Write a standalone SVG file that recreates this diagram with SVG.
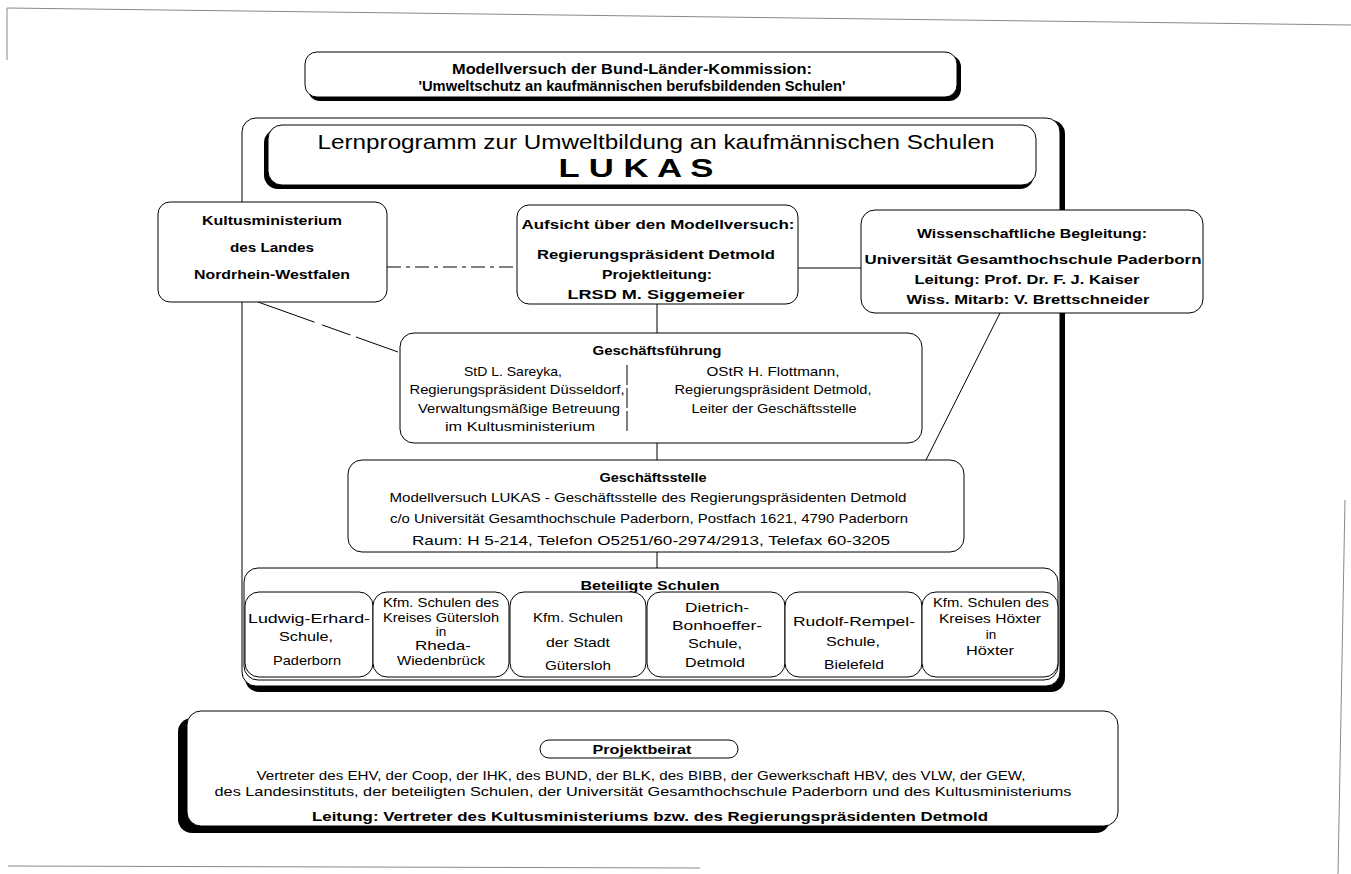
<svg xmlns="http://www.w3.org/2000/svg" width="1351" height="874" viewBox="0 0 1351 874">
<style>
text{font-family:"Liberation Sans",Arial,sans-serif;fill:#000;text-anchor:middle}
.b{font-weight:bold}
.s{font-size:13.5px}
.box{fill:#fff;stroke:#000;stroke-width:1}
.sh{fill:#000}
.ln{stroke:#000;stroke-width:1;fill:none}
.pg{stroke:#888;stroke-width:1;fill:none}
</style>
<rect width="1351" height="874" fill="#fff"/>
<g id="page">
<path class="pg" d="M7 8 L1351 25"/>
<path class="pg" d="M7 8 L7 60"/>
<path class="pg" d="M1345 500 L1338 874"/>
<path class="pg" d="M8 866 L700 868"/>
</g>
<g id="title-box">
<rect class="sh" x="308" y="55" width="653" height="46" rx="12"/>
<rect class="box" x="305" y="52" width="652" height="45" rx="12" stroke-width="1.5"/>
<text class="b" x="632" y="74" font-size="14" textLength="360" lengthAdjust="spacingAndGlyphs">Modellversuch der Bund-Länder-Kommission:</text>
<text class="b" x="632" y="91" font-size="14" textLength="427" lengthAdjust="spacingAndGlyphs">'Umweltschutz an kaufmännischen berufsbildenden Schulen'</text>
</g>
<g id="main-frame">
<rect class="sh" x="245" y="120" width="820" height="572" rx="14"/>
<rect class="box" x="242" y="118" width="818" height="568" rx="14" stroke-width="3"/>
</g>
<g id="lukas">
<rect class="sh" x="264" y="129" width="770" height="60" rx="14"/>
<rect class="box" x="268" y="125" width="768" height="60" rx="14"/>
<text x="656" y="149" font-size="21" textLength="677" lengthAdjust="spacingAndGlyphs">Lernprogramm zur Umweltbildung an kaufmännischen Schulen</text>
<text class="b" x="636" y="177" font-size="26" textLength="155" lengthAdjust="spacingAndGlyphs">L U K A S</text>
</g>
<g id="connectors">
<path class="ln" d="M387 267 L517 267" stroke-dasharray="14 5 4 5"/>
<path class="ln" d="M798 268 L861 268"/>
<path class="ln" d="M657 304 L657 333"/>
<path class="ln" d="M258 302 L398 352" stroke-dasharray="60 8 30 6"/>
<path class="ln" d="M1000 313 L925 462"/>
<path class="ln" d="M657 443 L657 460"/>
<path class="ln" d="M657 552 L657 568"/>
</g>
<g id="kultusministerium">
<rect class="box" x="158" y="202" width="229" height="100" rx="12"/>
<text class="b" x="272" y="225" font-size="13.5" textLength="140" lengthAdjust="spacingAndGlyphs">Kultusministerium</text>
<text class="b" x="272" y="252" font-size="13.5" textLength="84" lengthAdjust="spacingAndGlyphs">des Landes</text>
<text class="b" x="272" y="279" font-size="13.5" textLength="156" lengthAdjust="spacingAndGlyphs">Nordrhein-Westfalen</text>
</g>
<g id="aufsicht">
<rect class="box" x="517" y="205" width="281" height="99" rx="12"/>
<text class="b" x="658" y="229" font-size="13.5" textLength="273" lengthAdjust="spacingAndGlyphs">Aufsicht über den Modellversuch:</text>
<text class="b" x="656" y="259" font-size="13.5" textLength="238" lengthAdjust="spacingAndGlyphs">Regierungspräsident Detmold</text>
<text class="b" x="657" y="279" font-size="13.5" textLength="110" lengthAdjust="spacingAndGlyphs">Projektleitung:</text>
<text class="b" x="656" y="299" font-size="13.5" textLength="177" lengthAdjust="spacingAndGlyphs">LRSD M. Siggemeier</text>
</g>
<g id="wissenschaft">
<rect class="box" x="861" y="210" width="342" height="103" rx="14"/>
<text class="b" x="1032" y="238" font-size="13.5" textLength="230" lengthAdjust="spacingAndGlyphs">Wissenschaftliche Begleitung:</text>
<text class="b" x="1033" y="264" font-size="13.5" textLength="337" lengthAdjust="spacingAndGlyphs">Universität Gesamthochschule Paderborn</text>
<text class="b" x="1027" y="284" font-size="13.5" textLength="225" lengthAdjust="spacingAndGlyphs">Leitung: Prof. Dr. F. J.  Kaiser</text>
<text class="b" x="1028" y="304" font-size="13.5" textLength="243" lengthAdjust="spacingAndGlyphs">Wiss. Mitarb: V. Brettschneider</text>
</g>
<g id="geschaeftsfuehrung">
<rect class="box" x="400" y="333" width="522" height="110" rx="14"/>
<text class="b" x="657" y="355" font-size="13.5" textLength="129" lengthAdjust="spacingAndGlyphs">Geschäftsführung</text>
<path class="ln" d="M627 365 L627 432" stroke-dasharray="20 3"/>
<text x="513" y="376" font-size="13" textLength="98" lengthAdjust="spacingAndGlyphs">StD L. Sareyka,</text>
<text x="517" y="394" font-size="13" textLength="215" lengthAdjust="spacingAndGlyphs">Regierungspräsident Düsseldorf,</text>
<text x="519" y="413" font-size="13" textLength="202" lengthAdjust="spacingAndGlyphs">Verwaltungsmäßige Betreuung</text>
<text x="520" y="431" font-size="13" textLength="150" lengthAdjust="spacingAndGlyphs">im Kultusministerium</text>
<text x="773" y="376" font-size="13" textLength="133" lengthAdjust="spacingAndGlyphs">OStR H. Flottmann,</text>
<text x="773" y="394" font-size="13" textLength="197" lengthAdjust="spacingAndGlyphs">Regierungspräsident  Detmold,</text>
<text x="774" y="413" font-size="13" textLength="165" lengthAdjust="spacingAndGlyphs">Leiter der Geschäftsstelle</text>
</g>
<g id="geschaeftsstelle">
<rect class="box" x="348" y="460" width="616" height="92" rx="14"/>
<text class="b" x="653" y="482" font-size="13.5" textLength="107" lengthAdjust="spacingAndGlyphs">Geschäftsstelle</text>
<text x="648" y="502" font-size="13" textLength="517" lengthAdjust="spacingAndGlyphs">Modellversuch LUKAS - Geschäftsstelle des Regierungspräsidenten Detmold</text>
<text x="649" y="523" font-size="13" textLength="518" lengthAdjust="spacingAndGlyphs">c/o Universität Gesamthochschule Paderborn, Postfach 1621, 4790 Paderborn</text>
<text x="651" y="545" font-size="13" textLength="478" lengthAdjust="spacingAndGlyphs">Raum: H 5-214, Telefon O5251/60-2974/2913, Telefax 60-3205</text>
</g>
<g id="beteiligte-schulen">
<rect class="box" x="244" y="568" width="814" height="112" rx="14"/>
<text class="b" x="650" y="590" font-size="13.5" textLength="139" lengthAdjust="spacingAndGlyphs">Beteiligte Schulen</text>
</g>
<g id="schule-1">
<rect class="box" x="245" y="592" width="128" height="85" rx="14"/>
<text class="s" x="309" y="623" textLength="122" lengthAdjust="spacingAndGlyphs">Ludwig-Erhard-</text>
<text class="s" x="306" y="641" textLength="54" lengthAdjust="spacingAndGlyphs">Schule,</text>
<text class="s" x="307" y="665" textLength="68" lengthAdjust="spacingAndGlyphs">Paderborn</text>
</g>
<g id="schule-2">
<rect class="box" x="373" y="592" width="136" height="85" rx="14"/>
<text class="s" x="441" y="607" textLength="116" lengthAdjust="spacingAndGlyphs">Kfm. Schulen des</text>
<text class="s" x="441" y="622" textLength="116" lengthAdjust="spacingAndGlyphs">Kreises Gütersloh</text>
<text class="s" x="441" y="636">in</text>
<text class="s" x="443" y="650" textLength="56" lengthAdjust="spacingAndGlyphs">Rheda-</text>
<text class="s" x="441" y="665" textLength="88" lengthAdjust="spacingAndGlyphs">Wiedenbrück</text>
</g>
<g id="schule-3">
<rect class="box" x="510" y="592" width="136" height="85" rx="14"/>
<text class="s" x="578" y="622" textLength="90" lengthAdjust="spacingAndGlyphs">Kfm. Schulen</text>
<text class="s" x="578" y="647" textLength="64" lengthAdjust="spacingAndGlyphs">der Stadt</text>
<text class="s" x="578" y="670" textLength="66" lengthAdjust="spacingAndGlyphs">Gütersloh</text>
</g>
<g id="schule-4">
<rect class="box" x="647" y="592" width="138" height="85" rx="14"/>
<text class="s" x="717" y="612" textLength="64" lengthAdjust="spacingAndGlyphs">Dietrich-</text>
<text class="s" x="717" y="630" textLength="90" lengthAdjust="spacingAndGlyphs">Bonhoeffer-</text>
<text class="s" x="715" y="648" textLength="54" lengthAdjust="spacingAndGlyphs">Schule,</text>
<text class="s" x="715" y="667" textLength="60" lengthAdjust="spacingAndGlyphs">Detmold</text>
</g>
<g id="schule-5">
<rect class="box" x="785" y="592" width="137" height="85" rx="14"/>
<text class="s" x="854" y="626" textLength="122" lengthAdjust="spacingAndGlyphs">Rudolf-Rempel-</text>
<text class="s" x="853" y="646" textLength="54" lengthAdjust="spacingAndGlyphs">Schule,</text>
<text class="s" x="854" y="669" textLength="60" lengthAdjust="spacingAndGlyphs">Bielefeld</text>
</g>
<g id="schule-6">
<rect class="box" x="922" y="592" width="136" height="85" rx="14"/>
<text class="s" x="991" y="607" textLength="116" lengthAdjust="spacingAndGlyphs">Kfm. Schulen des</text>
<text class="s" x="990" y="623" textLength="102" lengthAdjust="spacingAndGlyphs">Kreises Höxter</text>
<text class="s" x="991" y="639">in</text>
<text class="s" x="990" y="655" textLength="48" lengthAdjust="spacingAndGlyphs">Höxter</text>
</g>
<g id="projektbeirat">
<rect class="sh" x="178" y="718" width="932" height="115" rx="14"/>
<rect class="box" x="187" y="711" width="931" height="115" rx="14" stroke-width="1.5"/>
<rect class="box" x="540" y="740" width="198" height="18" rx="9"/>
<text class="b" x="642" y="754" font-size="12.5" textLength="99" lengthAdjust="spacingAndGlyphs">Projektbeirat</text>
<text x="641" y="780" font-size="13" textLength="769" lengthAdjust="spacingAndGlyphs">Vertreter des EHV, der Coop, der IHK, des BUND, der BLK, des BIBB, der Gewerkschaft HBV, des VLW, der GEW,</text>
<text x="643" y="796" font-size="13" textLength="857" lengthAdjust="spacingAndGlyphs">des Landesinstituts, der beteiligten Schulen, der Universität Gesamthochschule Paderborn und des Kultusministeriums</text>
<text class="b" x="650" y="821" font-size="13.5" textLength="676" lengthAdjust="spacingAndGlyphs">Leitung: Vertreter des Kultusministeriums bzw. des Regierungspräsidenten Detmold</text>
</g>
</svg>
